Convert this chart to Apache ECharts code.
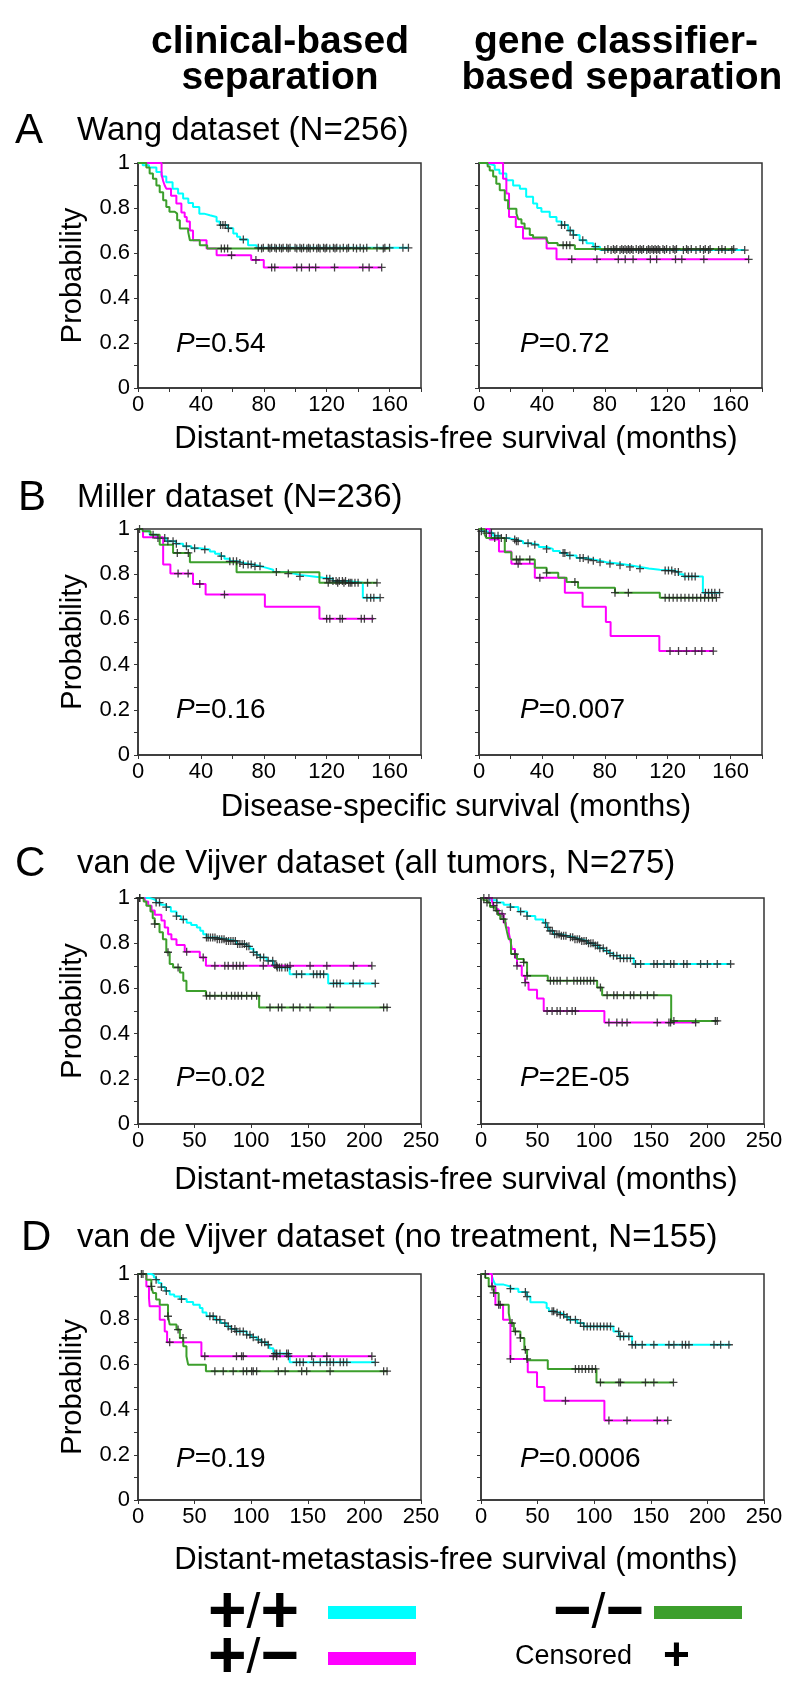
<!DOCTYPE html>
<html><head><meta charset="utf-8">
<script src="https://cdn.jsdelivr.net/npm/echarts@6/dist/echarts.min.js"></script>
<style>html,body{margin:0;padding:0;background:#fff}#c{width:800px;height:1691px}</style>
</head><body><div id="c"></div>
<script>
// ---------- DATA (time in months, survival probability) ----------
// Panel A, Wang dataset, clinical (left)
const A1_cyan = [[0,1],[3,0.99],[7,0.98],[11.7,0.96],[15,0.94],[18,0.915],[22,0.886],[25.5,0.865],[28.7,0.842],[32,0.822],[35,0.805],[39,0.775],[42,0.768],[45.7,0.76],[50,0.74],[52,0.724],[57,0.71],[60.6,0.687],[63,0.672],[65,0.66],[70,0.635],[75.4,0.623],[172,0.623]];
const A1_mag  = [[0,1],[15,0.95],[16,0.92],[17,0.9],[18,0.886],[21,0.855],[24.4,0.82],[27.6,0.78],[29.7,0.76],[31,0.74],[33,0.70],[35,0.657],[43.6,0.62],[50,0.59],[72,0.569],[80,0.536],[155,0.536]];
const A1_grn  = [[0,1],[5.3,0.98],[7.4,0.953],[9.5,0.93],[11.7,0.9],[13.8,0.87],[16,0.835],[18,0.805],[20,0.783],[23.4,0.775],[24.9,0.746],[26.6,0.709],[31.9,0.694],[33,0.657],[39.3,0.635],[44,0.62],[160,0.62]];
const A1_cyan_c = [52.5,54,55.5,57.5,67,76.5,79.7,82.9,85,87,90,92.3,94.6,96.7,99.9,103,105.3,108.5,111.6,114.8,118,120,124.3,126.4,130.6,133.9,137,141.3,145.5,152,157,160,168.5,172];
const A1_mag_c  = [59.5,75,85,87,101,104,109,113,125,143,147,155];
const A1_grn_c  = [53,55,57,78.6,83.9,88,91.3,95.6,101,104,107.4,109.5,113.7,115.8,119,122,125.3,128.5,132.8,139,143.4,156];
// Panel A, Wang dataset, gene classifier (right)
const A2_cyan = [[0,1],[4,0.995],[6.8,0.99],[10,0.97],[13,0.953],[17.4,0.923],[21.7,0.9],[26,0.886],[30,0.85],[34.4,0.82],[37,0.8],[39.7,0.783],[45,0.76],[49.3,0.74],[52.5,0.724],[56.7,0.7],[60,0.68],[64,0.657],[68.4,0.643],[72.7,0.628],[77,0.613],[169,0.613]];
const A2_mag  = [[0,1],[15.3,0.93],[17.4,0.864],[19.1,0.76],[23.4,0.716],[28,0.665],[43,0.62],[49.3,0.572],[171.5,0.572]];
const A2_grn  = [[0,1],[5.5,0.985],[6.8,0.967],[9,0.94],[11,0.908],[13.2,0.879],[16.4,0.835],[18.5,0.797],[23.8,0.775],[25,0.75],[27,0.731],[29,0.709],[32.3,0.68],[34.4,0.669],[43,0.66],[44,0.645],[50,0.635],[61,0.618],[162,0.618]];
const A2_cyan_c = [52.5,54.5,58,60,66,74,80,84,86.5,89.7,91.8,94,96,98,101.5,103.5,106.7,108.8,111,113,115,118,121.4,124.6,130,133,138,142.8,146,152.4,156.6,160.8,169];
const A2_mag_c  = [59,75,88.6,93,98,109,113,125,129,143,171.5];
const A2_grn_c  = [53.5,55.7,57.8,82,85.5,87.6,90.8,92.9,95,97,100,102.5,104.6,107.8,110,112,114,117,119.3,123.5,125.6,132,135,140.7,143.9,147,154.5,162];
// Panel B, Miller dataset, clinical (left)
const B1_cyan = [[0,1],[3,0.99],[7.4,0.975],[12,0.96],[18,0.946],[24,0.935],[28.7,0.924],[34,0.915],[39.3,0.909],[45.7,0.9],[49,0.89],[52,0.88],[55,0.868],[58.4,0.857],[63,0.85],[67,0.843],[73,0.835],[78,0.828],[81.8,0.82],[86,0.81],[94.6,0.803],[99,0.797],[103,0.79],[111.6,0.784],[118,0.78],[124,0.77],[133,0.762],[143,0.696],[154,0.696]];
const B1_mag  = [[0,1],[3.2,0.963],[16,0.843],[20.6,0.803],[35,0.757],[43,0.71],[80.7,0.656],[115.4,0.603],[150,0.603]];
const B1_grn  = [[0,1],[3,0.99],[8,0.975],[13.8,0.93],[22.3,0.894],[33,0.853],[62.7,0.809],[115.4,0.762],[152,0.762]];
const B1_cyan_c = [1,9.6,12.7,17,19,22.3,24.4,30.8,36,42.5,53,58.4,60.6,62.7,64.8,67,70,72,74.4,77.6,88,95.6,103,120,122,124,126,128,130,132,134,136,138,145.6,148,150,154];
const B1_mag_c  = [25.5,31.9,39.3,55,120,122,128.5,130,142,144,149];
const B1_grn_c  = [25,32,121,127,131,135,140,146,152];
// Panel B, Miller dataset, gene classifier (right)
const B2_cyan = [[0,1],[1.5,0.99],[4.7,0.982],[9,0.97],[13,0.96],[18,0.953],[23.8,0.946],[28,0.937],[32.3,0.93],[38,0.92],[43,0.912],[47,0.903],[51.4,0.894],[56,0.883],[62,0.872],[68,0.865],[72.7,0.86],[77,0.853],[81,0.846],[89.7,0.84],[96,0.832],[102.4,0.825],[108,0.82],[115,0.816],[123.7,0.81],[127,0.8],[130,0.79],[142.4,0.718],[153.4,0.718]];
const B2_mag  = [[0,1],[6.8,0.953],[12.7,0.9],[20.6,0.846],[35.5,0.784],[54.6,0.718],[65.9,0.656],[80.7,0.588],[83.7,0.526],[114.7,0.46],[149,0.46]];
const B2_grn  = [[0,1],[3.6,0.975],[4.7,0.96],[16.4,0.897],[20.6,0.865],[35.5,0.828],[43,0.806],[50.4,0.784],[55.7,0.765],[63,0.74],[86.5,0.718],[115,0.696],[151,0.696]];
const B2_cyan_c = [1.5,4.7,7.9,12.1,14.2,17.4,22.7,23.8,24.9,31.2,35.5,43,53.5,54.6,57.8,64.2,66.3,69.5,72.7,77,83.3,89.7,96,102.4,118.4,120.5,122.6,124.7,126.8,131,133.3,135.4,137.5,144,146,148,150,153];
const B2_mag_c  = [24.9,38.7,121.5,126.9,132,137.5,141.7,149];
const B2_grn_c  = [10,23.8,26,32.3,43,61,86.5,95,118.4,121,123.5,126,128.5,131,133.5,136,138.5,141,143.5,146,148.5,151];
// Panel C, van de Vijver all tumors, clinical (left)
const C1_cyan = [[0,1],[10,0.996],[13,0.99],[16,0.98],[20,0.97],[25,0.96],[29,0.94],[34,0.92],[38,0.905],[43,0.89],[47,0.88],[52,0.87],[55,0.855],[57.6,0.84],[60.5,0.825],[69,0.818],[78,0.81],[87,0.796],[96,0.786],[99,0.775],[102,0.76],[105,0.748],[108,0.737],[113.6,0.722],[119.5,0.703],[122.5,0.693],[134,0.663],[168,0.622],[209.6,0.622]];
const C1_mag  = [[0,1],[6,0.985],[9,0.966],[12,0.945],[14.8,0.926],[20.7,0.9],[23.6,0.87],[26.6,0.84],[29.5,0.818],[34,0.792],[41.3,0.762],[54.6,0.737],[60,0.70],[206.6,0.70]];
const C1_grn  = [[0,1],[5,0.985],[7.4,0.966],[11,0.94],[13,0.91],[14.8,0.885],[19,0.848],[22,0.818],[25,0.76],[28,0.708],[31,0.693],[37,0.67],[40,0.634],[42.8,0.589],[60,0.567],[107,0.516],[221,0.516]];
const C1_cyan_c = [1.5,16,19,25,34,40,60.5,62,64,66,68,70,72,74,76,78,80,82,84,86,88,90,92,94,96,98,102,105,108,111,115,119,121,123,125,127,130,132,140,144.6,155,158,161,164,172.7,175.6,178.6,190,196,209.6];
const C1_mag_c  = [43,57.6,67.9,76.7,79.7,84,87,90,93,110.7,122.5,134.3,152,166.8,190.4,206.6];
const C1_grn_c  = [1.5,14.8,26.5,35.4,60.5,63.5,67.9,73.8,78.2,82.6,85.6,88.5,91.5,96,100.4,104.8,116.6,124,127,137.2,143,152,169.7,217,220];
// Panel C, van de Vijver all tumors, gene classifier (right)
const C2_cyan = [[0,1],[8,0.99],[14,0.98],[20,0.97],[26,0.96],[33,0.94],[40.7,0.92],[48,0.905],[55,0.89],[58,0.87],[60,0.855],[64,0.84],[70,0.833],[76,0.826],[82,0.818],[88,0.81],[94,0.8],[99.6,0.79],[104,0.778],[108.5,0.767],[113,0.755],[117,0.745],[123,0.733],[135,0.708],[220.5,0.708]];
const C2_mag  = [[0,1],[9.5,0.99],[11,0.966],[13,0.95],[15.6,0.93],[20,0.89],[22,0.87],[24.5,0.848],[26,0.81],[27.4,0.774],[30,0.735],[31.8,0.70],[36,0.656],[39,0.626],[42,0.594],[49.5,0.555],[55.4,0.5],[109,0.449],[189.6,0.449]];
const C2_grn  = [[0,1],[2,0.99],[5.3,0.98],[8,0.96],[12.7,0.944],[15,0.925],[17,0.907],[21.5,0.885],[23,0.85],[24.5,0.818],[26.5,0.752],[31.8,0.73],[37.7,0.715],[40.7,0.656],[59,0.634],[102.6,0.604],[107,0.57],[168,0.456],[208.7,0.456]];
const C2_cyan_c = [2.5,7,14,26,35,40.7,57,59,61,63,65,67,69,71,73,75,79,81,83,85,87,89,91,93,95,97,99,101,103,105,108,111,114,117,120,123,126,129,132,136.5,141,152.7,155.7,161.6,167.5,170.4,179,182,194,200,208.7,220.5];
const C2_mag_c  = [11,18.6,31.8,39,58.4,62.8,67.2,70,76,80.5,83.4,113,120,124.7,129,155.7,166,167.5,189.6];
const C2_grn_c  = [5.3,14,20,30,37.7,40.7,61.3,64.2,67.2,70,76,82,85,88,90.8,93.8,96.7,99.6,105.5,111.4,117.3,120.3,126,132,135,141,147,152.7,170.4,207,208.7];
// Panel D, van de Vijver no treatment, clinical (left)
const D1_cyan = [[0,1],[11.8,0.995],[14,0.985],[16,0.975],[18,0.96],[20.7,0.942],[24,0.925],[28,0.909],[32,0.9],[37,0.889],[43,0.876],[48.7,0.864],[54.6,0.85],[57,0.83],[60.5,0.813],[68,0.798],[73,0.783],[78,0.768],[82,0.757],[87,0.746],[96,0.731],[100,0.72],[105,0.709],[109,0.698],[113.6,0.687],[116,0.672],[119.5,0.658],[121,0.648],[134,0.609],[209.6,0.609]];
const D1_mag  = [[0,1],[7.4,0.945],[9.7,0.894],[10.3,0.857],[19.2,0.798],[23.6,0.746],[25.7,0.698],[56,0.636],[206.6,0.636]];
const D1_grn  = [[0,1],[7.4,0.975],[11.8,0.945],[13.3,0.916],[16,0.887],[19.2,0.864],[26.5,0.813],[28,0.776],[34,0.754],[37,0.717],[40,0.68],[42.8,0.636],[44.3,0.599],[60,0.57],[220.5,0.57]];
const D1_cyan_c = [3,16,20.7,25,38.4,63.5,66.4,69.4,72.3,76.7,79.7,82.6,85.6,87,90,93,96,98.9,101.8,106.3,109.2,112,115,121,122.5,125.4,131.3,132.8,140,143,146,155,161,166.8,169.7,172.7,178.6,181.5,184.5,209.6];
const D1_mag_c  = [4.4,28,59,87,91.5,93,119.5,122.5,132.8,153.5,166.8,206.6];
const D1_grn_c  = [11.8,26.5,35.4,39.8,67.9,75.3,84.1,93,96,100.4,101.8,104.8,124,130,144.6,149,169.7,217,220];
// Panel D, van de Vijver no treatment, gene classifier (right)
const D2_cyan = [[0,1],[9.7,0.99],[11,0.97],[12.7,0.953],[20,0.945],[26,0.935],[33,0.92],[40.7,0.9],[43.6,0.875],[55.4,0.872],[58,0.85],[60,0.835],[65,0.828],[70,0.82],[74,0.81],[77.5,0.798],[85,0.783],[90.8,0.768],[117,0.746],[121.8,0.724],[133.5,0.687],[220.5,0.687]];
const D2_mag  = [[0,1],[9.7,0.945],[12.7,0.864],[19.5,0.798],[26,0.624],[41.3,0.565],[49.5,0.5],[56,0.439],[109,0.352],[165,0.352]];
const D2_grn  = [[0,1],[3.8,0.982],[6.8,0.945],[11.2,0.916],[15.6,0.864],[24.5,0.827],[26,0.783],[29,0.746],[34.8,0.717],[38.3,0.665],[40.7,0.618],[59,0.58],[102,0.52],[170,0.52]];
const D2_cyan_c = [3.8,26,39.2,40.7,62.8,64.2,67.2,70,73,76,79,83.4,87.9,90.8,93.8,96.7,99.6,102.6,105.5,108.5,111.4,114.4,121.6,123,126,130.6,133.5,136.5,142.4,152.7,166,170.4,177.8,180.7,183.7,205.8,211.7,219];
const D2_mag_c  = [9.7,17,26,40.7,74.6,113,129,155.7,165];
const D2_grn_c  = [11.2,15.6,27.4,30.4,34.8,39.2,83.4,86.4,89.3,92.3,95.2,98.2,101.2,105.5,121.8,123.2,145.3,152.7,170];

const pValues = ['0.54','0.72','0.16','0.007','0.02','2E-05','0.19','0.0006'];
const panelTitles = ['Wang dataset (N=256)','Miller dataset (N=236)','van de Vijver dataset (all tumors, N=275)','van de Vijver dataset (no treatment, N=155)'];
const panelLetters = ['A','B','C','D'];
const xTitles = ['Distant-metastasis-free survival (months)','Disease-specific survival (months)','Distant-metastasis-free survival (months)','Distant-metastasis-free survival (months)'];

// ---------- LAYOUT ----------
const FONT = '"Liberation Sans", Arial, Helvetica, sans-serif';
const COL = {cyan:'#00FFFF', mag:'#FF00FF', grn:'#3C9F2C'};
const rows = [
  {top:163, h:225, xMax:180, xInt:40, minor:true},
  {top:529, h:226, xMax:180, xInt:40, minor:true},
  {top:898, h:226, xMax:250, xInt:50, minor:false},
  {top:1274,h:226, xMax:250, xInt:50, minor:false}
];
const colLeft = [[138,479],[138,479],[138,481],[138,481]];
const curves = [
  [[A1_cyan,A1_mag,A1_grn],[A1_cyan_c,A1_mag_c,A1_grn_c]],
  [[A2_cyan,A2_mag,A2_grn],[A2_cyan_c,A2_mag_c,A2_grn_c]],
  [[B1_cyan,B1_mag,B1_grn],[B1_cyan_c,B1_mag_c,B1_grn_c]],
  [[B2_cyan,B2_mag,B2_grn],[B2_cyan_c,B2_mag_c,B2_grn_c]],
  [[C1_cyan,C1_mag,C1_grn],[C1_cyan_c,C1_mag_c,C1_grn_c]],
  [[C2_cyan,C2_mag,C2_grn],[C2_cyan_c,C2_mag_c,C2_grn_c]],
  [[D1_cyan,D1_mag,D1_grn],[D1_cyan_c,D1_mag_c,D1_grn_c]],
  [[D2_cyan,D2_mag,D2_grn],[D2_cyan_c,D2_mag_c,D2_grn_c]]
];
function survAt(curve, t){ let p = curve[0][1]; for (const [ti,pi] of curve){ if (ti <= t) p = pi; else break; } return p; }

const PLUS = 'path://M4.2,0H5.8V4.2H10V5.8H5.8V10H4.2V5.8H0V4.2H4.2Z';
const grids=[], xAxes=[], yAxes=[], series=[], texts=[];
const AX = '#333';
for (let r=0;r<4;r++){
  for (let c=0;c<2;c++){
    const i = r*2+c, R = rows[r];
    grids.push({left:colLeft[r][c], top:R.top, width:283, height:R.h, show:true, borderColor:AX, borderWidth:1.5, backgroundColor:'transparent'});
    xAxes.push({gridIndex:i, type:'value', min:0, max:R.xMax, interval:R.xInt,
      axisLine:{show:true, lineStyle:{color:AX, width:1.5}},
      axisTick:{show:true, length:4, lineStyle:{color:AX, width:1}},
      minorTick:{show:R.minor, splitNumber:2, length:4, lineStyle:{color:AX, width:1}},
      splitLine:{show:false},
      axisLabel:{show:true, color:'#000', fontSize:22, fontFamily:FONT, margin:6, showMaxLabel: R.xMax===250}});
    yAxes.push({gridIndex:i, type:'value', min:0, max:1, interval:0.2,
      axisLine:{show:true, lineStyle:{color:AX, width:1.5}},
      axisTick:{show:true, length:4, lineStyle:{color:AX, width:1}},
      minorTick:{show:true, splitNumber:2, length:4, lineStyle:{color:AX, width:1}},
      splitLine:{show:false},
      axisLabel:{show:c===0, color:'#000', fontSize:22, fontFamily:FONT, margin:8,
        formatter:v=>String(Math.round(v*10)/10)}});
    const [lines, cens] = curves[i];
    const cols = [COL.cyan, COL.mag, COL.grn];
    const marks = [];
    lines.forEach((ln,k)=>{
      series.push({type:'line', xAxisIndex:i, yAxisIndex:i, step:'end', data:ln, showSymbol:false, symbol:'none',
        lineStyle:{color:cols[k], width:2}, z:2+k, silent:true, animation:false});
      cens[k].forEach(t=>marks.push([t, survAt(ln,t)]));
    });
    series.push({type:'scatter', xAxisIndex:i, yAxisIndex:i, data:marks, symbol:PLUS, symbolSize:8,
      itemStyle:{color:'#222', opacity:0.85}, z:10, silent:true, animation:false});
    // P value
    const py = [344,710,1078,1459][r];
    texts.push({type:'text', x: c===0?176:520, y:py, style:{text:'{i|P}=' + pValues[i], fill:'#000', font:'28px '+FONT, verticalAlign:'middle',
      rich:{i:{fontStyle:'italic', fontSize:28, fontFamily:FONT, fill:'#000'}}}});
  }
  // Probability label
  const R = rows[r];
  texts.push({type:'text', x:73, y:R.top+R.h/2, rotation:Math.PI/2, style:{text:'Probability', fill:'#000', font:'29px '+FONT, align:'center', verticalAlign:'middle'}});
}
// Panel letters and titles
const titleY = [131,498,864,1238];
const letterX = [15,18,15,21];
for (let r=0;r<4;r++){
  texts.push({type:'text', x:letterX[r], y:titleY[r], style:{text:panelLetters[r], fill:'#000', font:'42px '+FONT, verticalAlign:'middle'}});
  texts.push({type:'text', x:77, y:titleY[r], style:{text:panelTitles[r], fill:'#000', font:'33px '+FONT, verticalAlign:'middle'}});
}
const xTitleY = [439,807,1180,1560];
for (let r=0;r<4;r++){
  texts.push({type:'text', x:456, y:xTitleY[r], style:{text:xTitles[r], fill:'#000', font:'31px '+FONT, align:'center', verticalAlign:'middle'}});
}
// Column headers
texts.push({type:'text', x:280, y:42, style:{text:'clinical-based', fill:'#000', font:'bold 39px '+FONT, align:'center', verticalAlign:'middle'}});
texts.push({type:'text', x:280, y:78, style:{text:'separation', fill:'#000', font:'bold 39px '+FONT, align:'center', verticalAlign:'middle'}});
texts.push({type:'text', x:616, y:42, style:{text:'gene classifier-', fill:'#000', font:'bold 39px '+FONT, align:'center', verticalAlign:'middle'}});
texts.push({type:'text', x:622, y:78, style:{text:'based separation', fill:'#000', font:'bold 39px '+FONT, align:'center', verticalAlign:'middle'}});
// Legend
const richSym = {p:{fontWeight:'bold', fontSize:66, fontFamily:FONT, fill:'#000'}, s:{fontSize:50, fontFamily:FONT, fill:'#000'}};
texts.push({type:'text', x:208, y:1614, style:{text:'{p|+}{s|/}{p|+}', verticalAlign:'middle', rich:richSym}});
texts.push({type:'text', x:208, y:1659, style:{text:'{p|+}{s|/}{p|\u2212}', verticalAlign:'middle', rich:richSym}});
texts.push({type:'text', x:553, y:1614, style:{text:'{p|\u2212}{s|/}{p|\u2212}', verticalAlign:'middle', rich:richSym}});
texts.push({type:'text', x:515, y:1657, style:{text:'Censored', fill:'#000', font:'27px '+FONT, verticalAlign:'middle'}});
texts.push({type:'text', x:663, y:1657, style:{text:'+', fill:'#000', font:'bold 46px '+FONT, verticalAlign:'middle'}});
texts.push({type:'rect', shape:{x:328,y:1606,width:88,height:13}, style:{fill:COL.cyan}});
texts.push({type:'rect', shape:{x:328,y:1652,width:88,height:13}, style:{fill:COL.mag}});
texts.push({type:'rect', shape:{x:654,y:1606,width:88,height:13}, style:{fill:COL.grn}});

const chart = echarts.init(document.getElementById('c'), null, {renderer:'canvas', width:800, height:1691});
chart.setOption({animation:false, backgroundColor:'#fff', grid:grids, xAxis:xAxes, yAxis:yAxes, series:series, graphic:{elements:texts}});
</script></body></html>
